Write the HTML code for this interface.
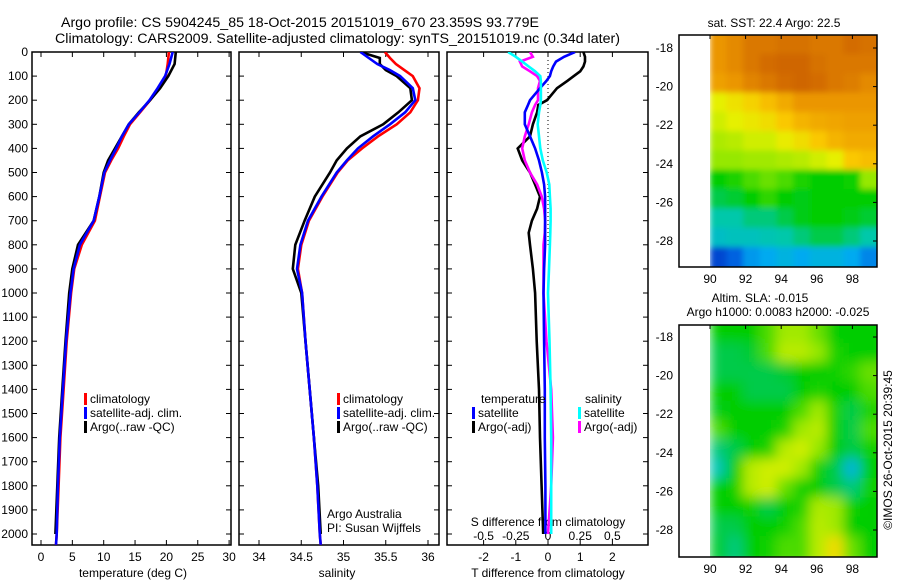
<!DOCTYPE html>
<html><head><meta charset="utf-8">
<style>
html,body{margin:0;padding:0;background:#fff;}
svg{display:block;font-family:"Liberation Sans",sans-serif;}
text{fill:#000;}
</style></head>
<body>
<svg id="chart" width="900" height="580" viewBox="0 0 900 580" xmlns="http://www.w3.org/2000/svg">
<defs>
<clipPath id="c1"><rect x="32" y="52" width="199" height="493"/></clipPath>
<clipPath id="c2"><rect x="239" y="52" width="200" height="493"/></clipPath>
<clipPath id="c3"><rect x="447" y="52" width="201" height="493"/></clipPath>
<clipPath id="m1"><rect x="710" y="35" width="167" height="232"/></clipPath>
<clipPath id="m2"><rect x="710" y="325" width="167" height="232"/></clipPath>
<filter id="blurA" x="-5%" y="-5%" width="110%" height="110%"><feGaussianBlur stdDeviation="3"/></filter>
<filter id="blurB" x="-5%" y="-5%" width="110%" height="110%"><feGaussianBlur stdDeviation="6"/></filter>
</defs>
<text x="61" y="27" font-size="13.5" textLength="478" lengthAdjust="spacingAndGlyphs">Argo profile: CS 5904245_85 18-Oct-2015 20151019_670 23.359S 93.779E</text>
<text x="55" y="43" font-size="13.5" textLength="565" lengthAdjust="spacingAndGlyphs">Climatology: CARS2009. Satellite-adjusted climatology: synTS_20151019.nc (0.34d later)</text>
<g id="root"></g>
</svg>
<script>
// ---------- data ----------
const depthTS = [0,50,100,150,200,250,300,350,400,450,500,600,700,800,900,1000,1200,1400,1600,1800,2000,2045];
const tempClim = [20.4,20.2,19.9,18.8,17.4,15.8,14.2,13.2,12.3,11.2,10.2,9.4,8.6,6.5,5.3,4.8,4.1,3.6,3.1,2.8,2.5,2.4];
const tempSat  = [21.0,20.5,19.8,18.6,17.3,15.7,14.0,12.9,12.0,11.0,10.1,9.3,8.4,6.2,5.2,4.7,4.0,3.5,3.0,2.7,2.5,2.4];
const tempArgo = [21.5,21.3,20.3,19.0,17.4,15.6,14.0,12.9,11.8,10.7,10.0,9.3,8.4,5.9,5.0,4.5,3.9,3.4,2.9,2.6,2.3,null];

const depthS = [0,25,50,75,100,150,200,250,300,350,400,450,500,600,700,800,900,1000,1200,1400,1600,1800,2000,2045];
const salClim = [35.49,35.55,35.62,35.72,35.82,35.9,35.88,35.79,35.63,35.41,35.22,35.05,34.93,34.75,34.59,34.5,34.46,34.51,34.55,34.6,34.65,34.69,34.72,34.73];
const salSat  = [35.2,35.3,35.4,35.55,35.67,35.82,35.85,35.73,35.55,35.35,35.17,35.04,34.92,34.74,34.58,34.49,34.45,34.51,34.55,34.6,34.65,34.69,34.72,34.73];
const salArgo = [35.2,35.43,35.43,35.5,35.63,35.79,35.81,35.65,35.47,35.2,35.04,34.92,34.84,34.66,34.54,34.43,34.40,34.50,34.55,34.6,34.65,34.7,34.73,null];

const depthD = [0,20,40,60,80,100,120,150,200,220,250,300,350,400,450,500,550,600,650,700,750,800,900,1000,1200,1400,1600,1800,2000];
const dTempSat  = [0.84,0.5,0.25,0.16,0.1,0.06,-0.05,-0.25,-0.56,-0.62,-0.72,-0.72,-0.56,-0.4,-0.28,-0.19,-0.12,-0.09,-0.09,-0.09,-0.09,-0.09,-0.12,-0.14,-0.12,-0.1,-0.1,-0.08,-0.08];
const dTempArgo = [1.1,1.15,1.15,1.1,1.0,0.8,0.6,0.28,-0.03,-0.3,-0.34,-0.47,-0.56,-0.94,-0.8,-0.56,-0.4,-0.25,-0.34,-0.5,-0.6,-0.56,-0.47,-0.4,-0.35,-0.28,-0.25,-0.2,-0.15];
const dSalSat  = [-0.31,-0.25,-0.2,-0.15,-0.1,-0.06,-0.055,-0.055,-0.055,-0.06,-0.07,-0.08,-0.07,-0.06,-0.04,-0.01,0.01,0.015,0.02,0.02,0.018,0.015,0.008,0,0.012,0.02,0.025,0.025,0.025];
const dSalArgo = [-0.14,-0.118,-0.218,-0.2,-0.14,-0.085,-0.062,-0.078,-0.078,-0.1,-0.125,-0.15,-0.18,-0.2,-0.18,-0.14,-0.085,-0.048,-0.03,-0.022,-0.025,-0.035,-0.035,-0.035,-0.012,0.025,0.038,0.025,0];

const depthTicks = [0,100,200,300,400,500,600,700,800,900,1000,1100,1200,1300,1400,1500,1600,1700,1800,1900,2000];
const tempTicks = [0,5,10,15,20,25,30];
const salTicks = [34,34.5,35,35.5,36];
const salTickLabels = ["34","34.5","35","35.5","36"];
const dTTicks = [-2,-1,0,1,2];
const dSTicks = [-0.5,-0.25,0,0.25,0.5];
const dSTickLabels = ["-0.5","-0.25","0","0.25","0.5"];
const lonTicks = [90,92,94,96,98];
const latTicks = [-18,-20,-22,-24,-26,-28];

const sstGrid = [
[0.8,0.82,0.85,0.85,0.86,0.86,0.85,0.85,0.87,0.86],
[0.8,0.82,0.85,0.87,0.88,0.88,0.86,0.85,0.85,0.85],
[0.78,0.8,0.83,0.85,0.87,0.88,0.87,0.85,0.84,0.82],
[0.62,0.65,0.68,0.72,0.76,0.8,0.8,0.8,0.8,0.8],
[0.6,0.62,0.64,0.66,0.7,0.74,0.76,0.77,0.78,0.78],
[0.57,0.58,0.6,0.6,0.63,0.66,0.7,0.74,0.76,0.76],
[0.55,0.55,0.56,0.56,0.57,0.58,0.6,0.62,0.7,0.72],
[0.45,0.47,0.5,0.52,0.5,0.47,0.45,0.45,0.46,0.55],
[0.42,0.43,0.45,0.48,0.45,0.44,0.45,0.45,0.45,0.45],
[0.38,0.38,0.4,0.4,0.42,0.44,0.45,0.45,0.44,0.43],
[0.35,0.36,0.36,0.37,0.38,0.4,0.42,0.42,0.4,0.38],
[0.18,0.22,0.28,0.3,0.32,0.3,0.32,0.32,0.3,0.26]
];
const slaGrid = [
[0.45,0.45,0.45,0.5,0.56,0.56,0.52,0.45,0.45,0.45],
[0.42,0.42,0.43,0.5,0.58,0.58,0.55,0.47,0.45,0.45],
[0.42,0.42,0.42,0.42,0.43,0.45,0.45,0.46,0.48,0.52],
[0.45,0.45,0.42,0.42,0.42,0.45,0.47,0.45,0.45,0.5],
[0.44,0.45,0.45,0.45,0.45,0.5,0.56,0.47,0.42,0.47],
[0.5,0.45,0.45,0.45,0.47,0.56,0.58,0.46,0.42,0.5],
[0.4,0.42,0.45,0.47,0.58,0.6,0.55,0.45,0.42,0.46],
[0.37,0.45,0.58,0.6,0.6,0.56,0.46,0.42,0.33,0.45],
[0.45,0.46,0.58,0.6,0.52,0.46,0.45,0.42,0.4,0.46],
[0.45,0.45,0.46,0.42,0.45,0.47,0.57,0.56,0.46,0.45],
[0.42,0.42,0.45,0.45,0.46,0.5,0.58,0.56,0.45,0.45],
[0.43,0.4,0.45,0.46,0.5,0.5,0.58,0.66,0.52,0.45]
];

// ---------- helpers ----------
const NS = "http://www.w3.org/2000/svg";
const root = document.getElementById('root');
function mk(tag, attrs, parent){ const e=document.createElementNS(NS,tag); for(const k in attrs) e.setAttribute(k,attrs[k]); (parent||root).appendChild(e); return e; }
function txt(x,y,s,anchor,size,name,parent){ const t=mk('text',{x:x,y:y,'font-size':size||12,'text-anchor':anchor||'start'},parent); t.textContent=s;
  
  
  return t; }

const yD = d => 52 + d*0.241;
const xT = v => 41 + v*6.27;
const xS = v => 259 + (v-34)*84.5;
const xDT = v => 548 + v*32.2;
const xDS = v => 548 + v*4*32.2;
const xLon = v => 710 + (v-90)*17.8;
const yLat1 = v => 48 + (-18-v)*19.3;
const yLat2 = v => 337 + (-18-v)*19.3;

function panel(x0,x1,name){
  const g = mk('g',{});
  
  
  mk('rect',{x:x0,y:52,width:x1-x0,height:493,fill:'none',stroke:'#000','stroke-width':1.5},g);
  depthTicks.forEach(d=>{ const y=yD(d);
    mk('line',{x1:x0,y1:y,x2:x0+5,y2:y,stroke:'#000'},g);
    mk('line',{x1:x1-5,y1:y,x2:x1,y2:y,stroke:'#000'},g); });
  return g;
}
function series(depths, vals, xf, color, name, clip){
  let pts=[];
  vals.forEach((v,i)=>{ if(v!==null) pts.push(xf(v).toFixed(1)+','+yD(depths[i]).toFixed(1)); });
  const p = mk('polyline',{points:pts.join(' '),fill:'none',stroke:color,'stroke-width':2.6,'stroke-linejoin':'miter','clip-path':'url(#'+clip+')'});
  
  
}
function legendRow(x,y,color,label,name){
  const g=mk('g',{});
  
  
  mk('rect',{x:x,y:y-10,width:3,height:12,fill:color},g);
  txt(x+6,y,label,'start',12,name+'-label',g);
}

// ---------- depth labels ----------
depthTicks.forEach(d=> txt(28,yD(d)+4,String(d),'end',12,'depth-tick-'+d));

// ---------- panel 1: temperature ----------
const p1 = panel(32,231,'temperature-panel');
tempTicks.forEach(v=>{ const x=xT(v);
  mk('line',{x1:x,y1:52,x2:x,y2:57,stroke:'#000'},p1);
  mk('line',{x1:x,y1:540,x2:x,y2:545,stroke:'#000'},p1);
  txt(x,561,String(v),'middle',12,'temp-tick-'+v); });
txt(133,577,'temperature (deg C)','middle',12,'temperature-axis-title');
series(depthTS,tempClim,xT,'#ff0000','temp-climatology-line','c1');
series(depthTS,tempArgo,xT,'#000000','temp-argo-line','c1');
series(depthTS,tempSat,xT,'#0000ff','temp-satellite-line','c1');
legendRow(84,403,'#ff0000','climatology','temp-legend-climatology');
legendRow(84,417,'#0000ff','satellite-adj. clim.','temp-legend-satellite');
legendRow(84,431,'#000000','Argo(..raw -QC)','temp-legend-argo');

// ---------- panel 2: salinity ----------
const p2 = panel(239,439,'salinity-panel');
salTicks.forEach((v,i)=>{ const x=xS(v);
  mk('line',{x1:x,y1:52,x2:x,y2:57,stroke:'#000'},p2);
  mk('line',{x1:x,y1:540,x2:x,y2:545,stroke:'#000'},p2);
  txt(x,561,salTickLabels[i],'middle',12,'sal-tick-'+i); });
txt(337,577,'salinity','middle',12,'salinity-axis-title');
series(depthS,salClim,xS,'#ff0000','sal-climatology-line','c2');
series(depthS,salArgo,xS,'#000000','sal-argo-line','c2');
series(depthS,salSat,xS,'#0000ff','sal-satellite-line','c2');
legendRow(337,403,'#ff0000','climatology','sal-legend-climatology');
legendRow(337,417,'#0000ff','satellite-adj. clim.','sal-legend-satellite');
legendRow(337,431,'#000000','Argo(..raw -QC)','sal-legend-argo');
txt(327,518,'Argo Australia','start',12,'argo-australia-note');
txt(327,532,'PI: Susan Wijffels','start',12,'pi-note');

// ---------- panel 3: differences ----------
const p3 = panel(447,648,'difference-panel');
dTTicks.forEach(v=>{ const x=xDT(v);
  mk('line',{x1:x,y1:52,x2:x,y2:57,stroke:'#000'},p3);
  mk('line',{x1:x,y1:540,x2:x,y2:545,stroke:'#000'},p3);
  txt(x,561,String(v),'middle',12,'dt-tick-'+v); });
dSTicks.forEach((v,i)=>{ txt(xDS(v),540,dSTickLabels[i],'middle',12,'ds-tick-'+i); });
txt(548,526,'S difference from climatology','middle',12,'s-difference-title');
txt(548,577,'T difference from climatology','middle',12,'t-difference-title');
mk('line',{x1:xDT(0),y1:52,x2:xDT(0),y2:yD(800),stroke:'#000','stroke-dasharray':'1,3'},p3);
series(depthD,dTempArgo,xDT,'#000000','dtemp-argo-line','c3');
series(depthD,dSalArgo,xDS,'#ff00ff','dsal-argo-line','c3');
series(depthD,dTempSat,xDT,'#0000ff','dtemp-satellite-line','c3');
series(depthD,dSalSat,xDS,'#00ffff','dsal-satellite-line','c3');
txt(481,403,'temperature','start',12,'diff-legend-temperature-header');
txt(585,403,'salinity','start',12,'diff-legend-salinity-header');
legendRow(472,417,'#0000ff','satellite','diff-legend-temp-satellite');
legendRow(472,431,'#000000','Argo(-adj)','diff-legend-temp-argo');
legendRow(578,417,'#00ffff','satellite','diff-legend-sal-satellite');
legendRow(578,431,'#ff00ff','Argo(-adj)','diff-legend-sal-argo');

// ---------- maps ----------
const stops=[[0.1,[0,30,160]],[0.2,[0,80,220]],[0.3,[0,170,240]],[0.38,[0,200,170]],[0.45,[0,205,0]],[0.55,[150,232,0]],[0.62,[230,240,0]],[0.7,[250,200,0]],[0.8,[235,150,0]],[0.9,[200,90,0]]];
function cmap(v){
  if(v<=stops[0][0]) return 'rgb('+stops[0][1]+')';
  for(let i=1;i<stops.length;i++){ if(v<=stops[i][0]){ const a=stops[i-1],b=stops[i],t=(v-a[0])/(b[0]-a[0]);
    return 'rgb('+a[1].map((c,k)=>Math.round(c+(b[1][k]-c)*t)).join(',')+')'; } }
  return 'rgb('+stops[stops.length-1][1]+')';
}
function drawMap(grid, yLat, top, clip, blur, name, title1, title2){
  const g=mk('g',{});
  
  
  const cg=mk('g',{'clip-path':'url(#'+clip+')'},g);
  const ig=mk('g',{filter:'url(#'+blur+')'},cg);
  const cw=9.4/grid[0].length;
  grid.forEach((row,j)=>row.forEach((v,i)=>{
    const x0=xLon(90+i*cw), x1=xLon(90+(i+1)*cw);
    const latT=-17.33-j, latB=-17.33-(j+1);
    let yt=yLat(latT), yb=yLat(latB);
    if(j===0) yt-=10; if(j===grid.length-1) yb+=10;
    const r=mk('rect',{x:(i===0?x0:x0-0.5),y:yt-0.5,width:x1-x0+(i===0?0.5:1)+(i===row.length-1?10:0),height:yb-yt+1,fill:cmap(v)},ig);
    
    
  }));
  mk('rect',{x:679,y:top,width:198,height:232,fill:'none',stroke:'#000','stroke-width':1.5},g);
  lonTicks.forEach(v=>{ const x=xLon(v);
    mk('line',{x1:x,y1:top,x2:x,y2:top+4,stroke:'#000'},g);
    txt(x,top+248,String(v),'middle',12,'lon-tick-'+v,g); });
  latTicks.forEach(v=>{ const y=yLat(v);
    mk('line',{x1:873,y1:y,x2:877,y2:y,stroke:'#000'},g);
    txt(673,y+4,String(v),'end',12,'lat-tick-'+v,g); });
  return g;
}
drawMap(sstGrid,yLat1,35,'m1','blurA','sst-map');
drawMap(slaGrid,yLat2,325,'m2','blurB','sla-map');
txt(774,27,'sat. SST: 22.4 Argo: 22.5','middle',12,'sst-map-title');
txt(760,302,'Altim. SLA: -0.015','middle',12,'sla-map-title');
txt(778,316,'Argo h1000: 0.0083 h2000: -0.025','middle',12,'argo-height-title');
const cr = txt(0,0,'©IMOS 26-Oct-2015 20:39:45','middle',12,'imos-credit');
cr.setAttribute('transform','translate(892,450) rotate(-90)');
</script>
</body></html>
